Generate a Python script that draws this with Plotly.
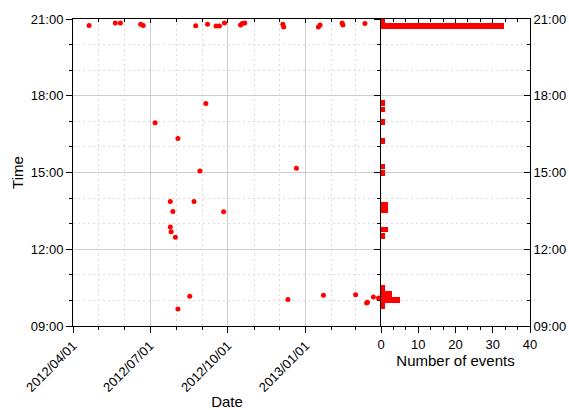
import plotly.graph_objects as go

# Individual events: calendar date and time of day (decimal hours)
event_dates = [
    "2012-04-20", "2012-05-21", "2012-05-27", "2012-06-20", "2012-06-23",
    "2012-08-24", "2012-09-07", "2012-09-17", "2012-09-21", "2012-09-27",
    "2012-10-16", "2012-10-18", "2012-10-21", "2012-12-05", "2012-12-06",
    "2013-01-16", "2013-01-18", "2013-02-13", "2013-02-14", "2013-03-12",
    "2012-09-05", "2012-07-07", "2012-08-03", "2012-08-29", "2012-12-21",
    "2012-07-25", "2012-08-22", "2012-07-28", "2012-09-26", "2012-07-25",
    "2012-07-26", "2012-07-31",
    "2012-08-03", "2012-08-17", "2012-12-11", "2013-01-22", "2013-03-01",
    "2013-03-14", "2013-03-15", "2013-03-22", "2013-03-28",
]
event_hours = [
    20.75, 20.84, 20.84, 20.79, 20.75,
    20.74, 20.79, 20.73, 20.73, 20.84,
    20.77, 20.82, 20.84, 20.79, 20.69,
    20.69, 20.77, 20.84, 20.77, 20.82,
    17.70, 16.94, 16.33, 15.06, 15.17,
    13.87, 13.87, 13.48, 13.47, 12.87,
    12.68, 12.47,
    9.66, 10.16, 10.04, 10.20, 10.22,
    9.90, 9.93, 10.13, 10.09,
]

# Histogram of event times: bin centres (decimal hours) and counts
bin_hours = [20.97, 20.73, 17.71, 17.47, 16.98, 16.24, 15.23, 14.99,
             13.74, 13.51, 12.77, 12.51, 10.49, 10.25, 10.01, 9.77]
bin_counts = [1, 33, 1, 1, 1, 1, 1, 1, 2, 2, 2, 1, 1, 3, 5, 1]

hour_ticks = [9, 12, 15, 18, 21]
hour_labels = ["09:00", "12:00", "15:00", "18:00", "21:00"]
count_ticks = [0, 10, 20, 30, 40]
date_range = ["2012-04-01", "2013-03-31"]

RED = "#ff0000"
GRID = "#cfcfcf"
MINOR_GRID = "#dcdcdc"
DOTS = "2px,3px"
FONT = "Liberation Sans, Arial, sans-serif"

split = (381 - 73) / (530 - 73)

fig = go.Figure()
fig.add_trace(go.Scatter(
    x=event_dates, y=event_hours, mode="markers",
    marker=dict(color=RED, size=5, line=dict(width=0)),
    xaxis="x", yaxis="y", showlegend=False,
))
fig.add_trace(go.Bar(
    y=bin_hours, x=bin_counts, orientation="h", width=0.22,
    marker=dict(color=RED, line=dict(width=0)),
    xaxis="x2", yaxis="y2", showlegend=False,
))
# empty helpers so the overlay (top / right) frame axes get drawn
fig.add_trace(go.Scatter(x=[], y=[], xaxis="x3", yaxis="y", showlegend=False))
fig.add_trace(go.Scatter(x=[], y=[], xaxis="x4", yaxis="y2", showlegend=False))
fig.add_trace(go.Scatter(x=[], y=[], xaxis="x2", yaxis="y3", showlegend=False))

frame = dict(showline=True, linecolor="black", linewidth=1, zeroline=False,
             tickcolor="black", tickwidth=1)

hour_axis = dict(
    range=[9, 21], tickvals=hour_ticks, ticktext=hour_labels,
    showgrid=True, gridcolor=GRID, gridwidth=1,
    **frame,
)

fig.update_layout(
    width=569, height=410,
    margin=dict(l=73, r=39, t=19, b=84),
    paper_bgcolor="white", plot_bgcolor="white",
    font=dict(family=FONT, size=13, color="black"),
    bargap=0,
    xaxis=dict(
        domain=[0, split], type="date", range=date_range,
        dtick="M3", tick0="2012-01-01", tickformat="%Y/%m/%d", tickangle=-45,
        ticks="outside", ticklen=6, showgrid=True, gridcolor=GRID,
        minor=dict(dtick="M1", ticks="outside", ticklen=3, tickcolor="black",
                   showgrid=True, gridcolor=MINOR_GRID, griddash=DOTS),
        title=dict(text="Date", font=dict(size=15), standoff=5),
        anchor="y", automargin=False, **frame,
    ),
    xaxis3=dict(
        overlaying="x", side="top", anchor="y", type="date", range=date_range,
        dtick="M3", tick0="2012-01-01", showticklabels=False,
        ticks="inside", ticklen=4, showgrid=False,
        minor=dict(dtick="M1", ticks="inside", ticklen=3, tickcolor="black"),
        **frame,
    ),
    yaxis=dict(
        anchor="x", ticks="outside", ticklen=6,
        minor=dict(dtick=1, ticks="outside", ticklen=3, tickcolor="black",
                   showgrid=True, gridcolor=MINOR_GRID, griddash=DOTS),
        title=dict(text="Time", font=dict(size=15), standoff=3),
        automargin=False, **hour_axis,
    ),
    xaxis2=dict(
        domain=[split, 1], range=[0, 40], tickvals=count_ticks,
        ticks="outside", ticklen=6, showgrid=False,
        minor=dict(dtick=10 / 3, ticks="outside", ticklen=3, tickcolor="black"),
        title=dict(text="Number of events", font=dict(size=15), standoff=1),
        anchor="y2", automargin=False, **frame,
    ),
    xaxis4=dict(
        overlaying="x2", side="top", anchor="y2", range=[0, 40],
        tickvals=count_ticks, showticklabels=False, ticks="inside", ticklen=4,
        showgrid=False,
        minor=dict(dtick=10 / 3, ticks="inside", ticklen=3, tickcolor="black"),
        **frame,
    ),
    yaxis2=dict(
        anchor="x2", side="left", ticks="outside", ticklen=6,
        showticklabels=False,
        minor=dict(dtick=1, ticks="outside", ticklen=3, tickcolor="black",
                   showgrid=True, gridcolor=MINOR_GRID, griddash=DOTS),
        **hour_axis,
    ),
    yaxis3=dict(
        overlaying="y2", anchor="x2", side="right", ticks="inside", ticklen=6,
        minor=dict(dtick=1, ticks="inside", ticklen=3, tickcolor="black"),
        automargin=False,
        **{k: v for k, v in hour_axis.items() if k not in ("showgrid",)},
        showgrid=False,
    ),
)

fig.write_html("out.html")
